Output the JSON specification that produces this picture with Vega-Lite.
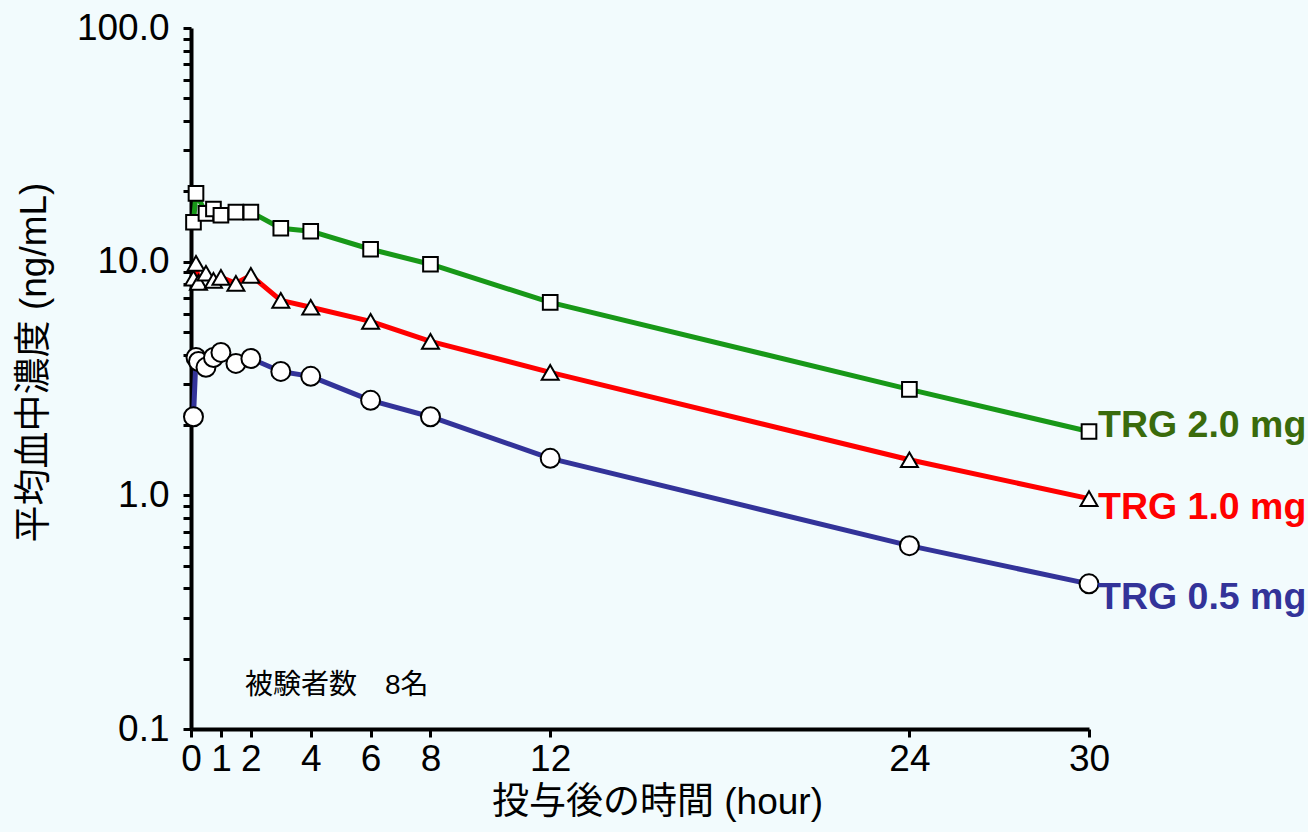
{
  "$schema": "https://vega.github.io/schema/vega-lite/v6.json",
  "width": 898,
  "height": 701,
  "autosize": {"type": "none"},
  "padding": {"left": 191, "top": 28, "right": 219, "bottom": 103},
  "background": "#f2fbfd",
  "config": {
    "view": {"stroke": null},
    "axis": {
      "grid": false,
      "domainColor": "black",
      "domainWidth": 4,
      "tickColor": "black",
      "tickWidth": 3,
      "tickSize": 8,
      "labelFont": "Liberation Sans",
      "labelFontSize": 37,
      "labelColor": "black",
      "titleFont": "Liberation Sans, Noto Sans CJK JP",
      "titleFontSize": 37,
      "titleFontWeight": "normal",
      "titleColor": "black",
      "labelOverlap": false,
      "labelFlush": false
    }
  },
  "datasets": {
    "pk": [
      {"series": "TRG 2.0 mg", "t": 0.083, "c": 14.75},
      {"series": "TRG 2.0 mg", "t": 0.167, "c": 19.6},
      {"series": "TRG 2.0 mg", "t": 0.5, "c": 16.1},
      {"series": "TRG 2.0 mg", "t": 0.75, "c": 16.8},
      {"series": "TRG 2.0 mg", "t": 1, "c": 15.8},
      {"series": "TRG 2.0 mg", "t": 1.5, "c": 16.3},
      {"series": "TRG 2.0 mg", "t": 2, "c": 16.3},
      {"series": "TRG 2.0 mg", "t": 3, "c": 13.9},
      {"series": "TRG 2.0 mg", "t": 4, "c": 13.5},
      {"series": "TRG 2.0 mg", "t": 6, "c": 11.3},
      {"series": "TRG 2.0 mg", "t": 8, "c": 9.75},
      {"series": "TRG 2.0 mg", "t": 12, "c": 6.7},
      {"series": "TRG 2.0 mg", "t": 24, "c": 2.84},
      {"series": "TRG 2.0 mg", "t": 30, "c": 1.875},
      {"series": "TRG 1.0 mg", "t": 0.083, "c": 8.49},
      {"series": "TRG 1.0 mg", "t": 0.167, "c": 9.84},
      {"series": "TRG 1.0 mg", "t": 0.25, "c": 8.16},
      {"series": "TRG 1.0 mg", "t": 0.5, "c": 8.92},
      {"series": "TRG 1.0 mg", "t": 0.75, "c": 8.32},
      {"series": "TRG 1.0 mg", "t": 1, "c": 8.57},
      {"series": "TRG 1.0 mg", "t": 1.5, "c": 8.08},
      {"series": "TRG 1.0 mg", "t": 2, "c": 8.74},
      {"series": "TRG 1.0 mg", "t": 3, "c": 6.83},
      {"series": "TRG 1.0 mg", "t": 4, "c": 6.38},
      {"series": "TRG 1.0 mg", "t": 6, "c": 5.55},
      {"series": "TRG 1.0 mg", "t": 8, "c": 4.56},
      {"series": "TRG 1.0 mg", "t": 12, "c": 3.36},
      {"series": "TRG 1.0 mg", "t": 24, "c": 1.42},
      {"series": "TRG 1.0 mg", "t": 30, "c": 0.968},
      {"series": "TRG 0.5 mg", "t": 0.083, "c": 2.17},
      {"series": "TRG 0.5 mg", "t": 0.167, "c": 3.89},
      {"series": "TRG 0.5 mg", "t": 0.25, "c": 3.74},
      {"series": "TRG 0.5 mg", "t": 0.5, "c": 3.53},
      {"series": "TRG 0.5 mg", "t": 0.75, "c": 3.89},
      {"series": "TRG 0.5 mg", "t": 1, "c": 4.09},
      {"series": "TRG 0.5 mg", "t": 1.5, "c": 3.67},
      {"series": "TRG 0.5 mg", "t": 2, "c": 3.85},
      {"series": "TRG 0.5 mg", "t": 3, "c": 3.39},
      {"series": "TRG 0.5 mg", "t": 4, "c": 3.23},
      {"series": "TRG 0.5 mg", "t": 6, "c": 2.55},
      {"series": "TRG 0.5 mg", "t": 8, "c": 2.17},
      {"series": "TRG 0.5 mg", "t": 12, "c": 1.44},
      {"series": "TRG 0.5 mg", "t": 24, "c": 0.609},
      {"series": "TRG 0.5 mg", "t": 30, "c": 0.418}
    ],
    "labels": [
      {"series": "TRG 2.0 mg", "t": 30, "c": 1.99},
      {"series": "TRG 1.0 mg", "t": 30, "c": 0.886},
      {"series": "TRG 0.5 mg", "t": 30, "c": 0.364}
    ],
    "note": [
      {"t": 1.8, "c": 0.153, "text": "被験者数　8名"}
    ]
  },
  "layer": [
    {
      "data": {"name": "pk"},
      "mark": {"type": "line", "strokeWidth": 5, "strokeJoin": "round"},
      "encoding": {
        "x": {
          "field": "t", "type": "quantitative",
          "scale": {"domain": [0, 30], "nice": false, "zero": false},
          "axis": {
            "values": [0, 1, 2, 4, 6, 8, 12, 24, 30],
            "title": "投与後の時間 (hour)",
            "labelPadding": 4,
            "titlePadding": 7,
            "titleX": 466
          }
        },
        "y": {
          "field": "c", "type": "quantitative",
          "scale": {"type": "log", "domain": [0.1, 100], "nice": false},
          "axis": {
            "values": [0.1, 0.2, 0.3, 0.4, 0.5, 0.6, 0.7, 0.8, 0.9, 1, 2, 3, 4, 5, 6, 7, 8, 9, 10, 20, 30, 40, 50, 60, 70, 80, 90, 100],
            "labelExpr": "datum.value == 0.1 || datum.value == 1 || datum.value == 10 || datum.value == 100 ? format(datum.value, '.1f') : ''",
            "title": "平均血中濃度 (ng/mL)",
            "labelPadding": 14,
            "titlePadding": 23,
            "titleY": 334
          }
        },
        "color": {
          "field": "series", "type": "nominal",
          "scale": {"domain": ["TRG 2.0 mg", "TRG 1.0 mg", "TRG 0.5 mg"], "range": ["#189818", "#ff0000", "#333399"]},
          "legend": null
        }
      }
    },
    {
      "data": {"name": "pk"},
      "mark": {"type": "point", "filled": true, "fill": "white", "stroke": "black", "strokeWidth": 2, "opacity": 1},
      "encoding": {
        "x": {"field": "t", "type": "quantitative"},
        "y": {"field": "c", "type": "quantitative"},
        "shape": {
          "field": "series", "type": "nominal",
          "scale": {"domain": ["TRG 2.0 mg", "TRG 1.0 mg", "TRG 0.5 mg"], "range": ["square", "triangle-up", "circle"]},
          "legend": null
        },
        "size": {
          "field": "series", "type": "ordinal",
          "scale": {"domain": ["TRG 2.0 mg", "TRG 1.0 mg", "TRG 0.5 mg"], "range": [215, 360, 205]},
          "legend": null
        }
      }
    },
    {
      "data": {"name": "labels"},
      "mark": {"type": "text", "align": "left", "baseline": "middle", "dx": 9, "fontSize": 37.5, "fontWeight": "bold", "font": "Liberation Sans"},
      "encoding": {
        "x": {"field": "t", "type": "quantitative"},
        "y": {"field": "c", "type": "quantitative"},
        "text": {"field": "series"},
        "color": {
          "field": "series", "type": "nominal",
          "scale": {"domain": ["TRG 2.0 mg", "TRG 1.0 mg", "TRG 0.5 mg"], "range": ["#3a6b0c", "#ff0000", "#333399"]},
          "legend": null
        }
      }
    },
    {
      "data": {"name": "note"},
      "mark": {"type": "text", "align": "left", "baseline": "middle", "fontSize": 28, "font": "Liberation Sans, Noto Sans CJK JP", "color": "black"},
      "encoding": {
        "x": {"field": "t", "type": "quantitative"},
        "y": {"field": "c", "type": "quantitative"},
        "text": {"field": "text"}
      }
    }
  ],
  "resolve": {"scale": {"color": "independent"}}
}
